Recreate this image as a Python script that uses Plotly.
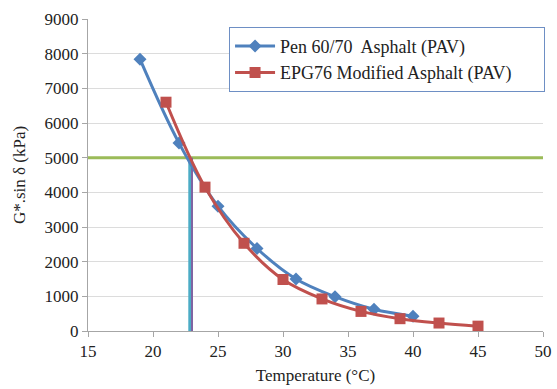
import plotly.graph_objects as go

pen_t = [19, 22, 25, 28, 31, 34, 37, 40]
pen_g = [7840, 5420, 3600, 2380, 1500, 990, 625, 425]
epg_t = [21, 24, 27, 30, 33, 36, 39, 42, 45]
epg_g = [6600, 4150, 2530, 1485, 925, 565, 355, 230, 140]
ref_g = 5000
pen_tc = 22.83
epg_tc = 23.0
x_range = [15, 50]
y_range = [0, 9000]

font = "Liberation Serif, Times New Roman, serif"
fig = go.Figure()
fig.add_trace(go.Scatter(x=x_range, y=[ref_g, ref_g], mode="lines",
                         line=dict(color="#9BBB59", width=3), showlegend=False, hoverinfo="skip"))
fig.add_trace(go.Scatter(x=[pen_tc, pen_tc], y=[0, ref_g], mode="lines",
                         line=dict(color="#4BACC6", width=3), showlegend=False))
fig.add_trace(go.Scatter(x=[epg_tc, epg_tc], y=[0, ref_g], mode="lines",
                         line=dict(color="#8064A2", width=2), showlegend=False))
fig.add_trace(go.Scatter(x=pen_t, y=pen_g, mode="lines+markers", name="Pen 60/70  Asphalt (PAV)",
                         line=dict(color="#4F81BD", width=3, shape="spline"),
                         marker=dict(symbol="diamond", size=10, color="#4F81BD")))
fig.add_trace(go.Scatter(x=epg_t, y=epg_g, mode="lines+markers",
                         name="EPG76 Modified Asphalt (PAV)" + "\u00a0" * 6,
                         line=dict(color="#C0504D", width=3, shape="spline"),
                         marker=dict(symbol="square", size=11, color="#C0504D")))

fig.update_layout(
    width=557, height=389,
    margin=dict(l=88, r=14, t=19, b=58),
    paper_bgcolor="white", plot_bgcolor="white",
    font=dict(family=font, size=17, color="#222"),
    legend=dict(x=0.31, y=0.975, xanchor="left", yanchor="top",
                bordercolor="#6E8FC4", borderwidth=1, bgcolor="white",
                font=dict(family=font, size=18), itemwidth=40, tracegroupgap=0),
    xaxis=dict(range=x_range, dtick=5, showgrid=False, showline=True, linecolor="#A6A6A6",
               ticks="outside", ticklen=5, tickcolor="#A6A6A6", zeroline=False, automargin=False,
               tickfont=dict(family=font, size=17),
               title=dict(text="Temperature (°C)", standoff=8, font=dict(family=font, size=17))),
    yaxis=dict(range=y_range, dtick=1000, showgrid=True, gridcolor="#DCDCDC", showline=True,
               linecolor="#A6A6A6", ticks="outside", ticklen=5, tickcolor="#A6A6A6", zeroline=False,
               automargin=False,
               tickfont=dict(family=font, size=17),
               title=dict(text="G*.sin δ (kPa)", standoff=14, font=dict(family=font, size=17))),
)
fig.write_html("out.html")
